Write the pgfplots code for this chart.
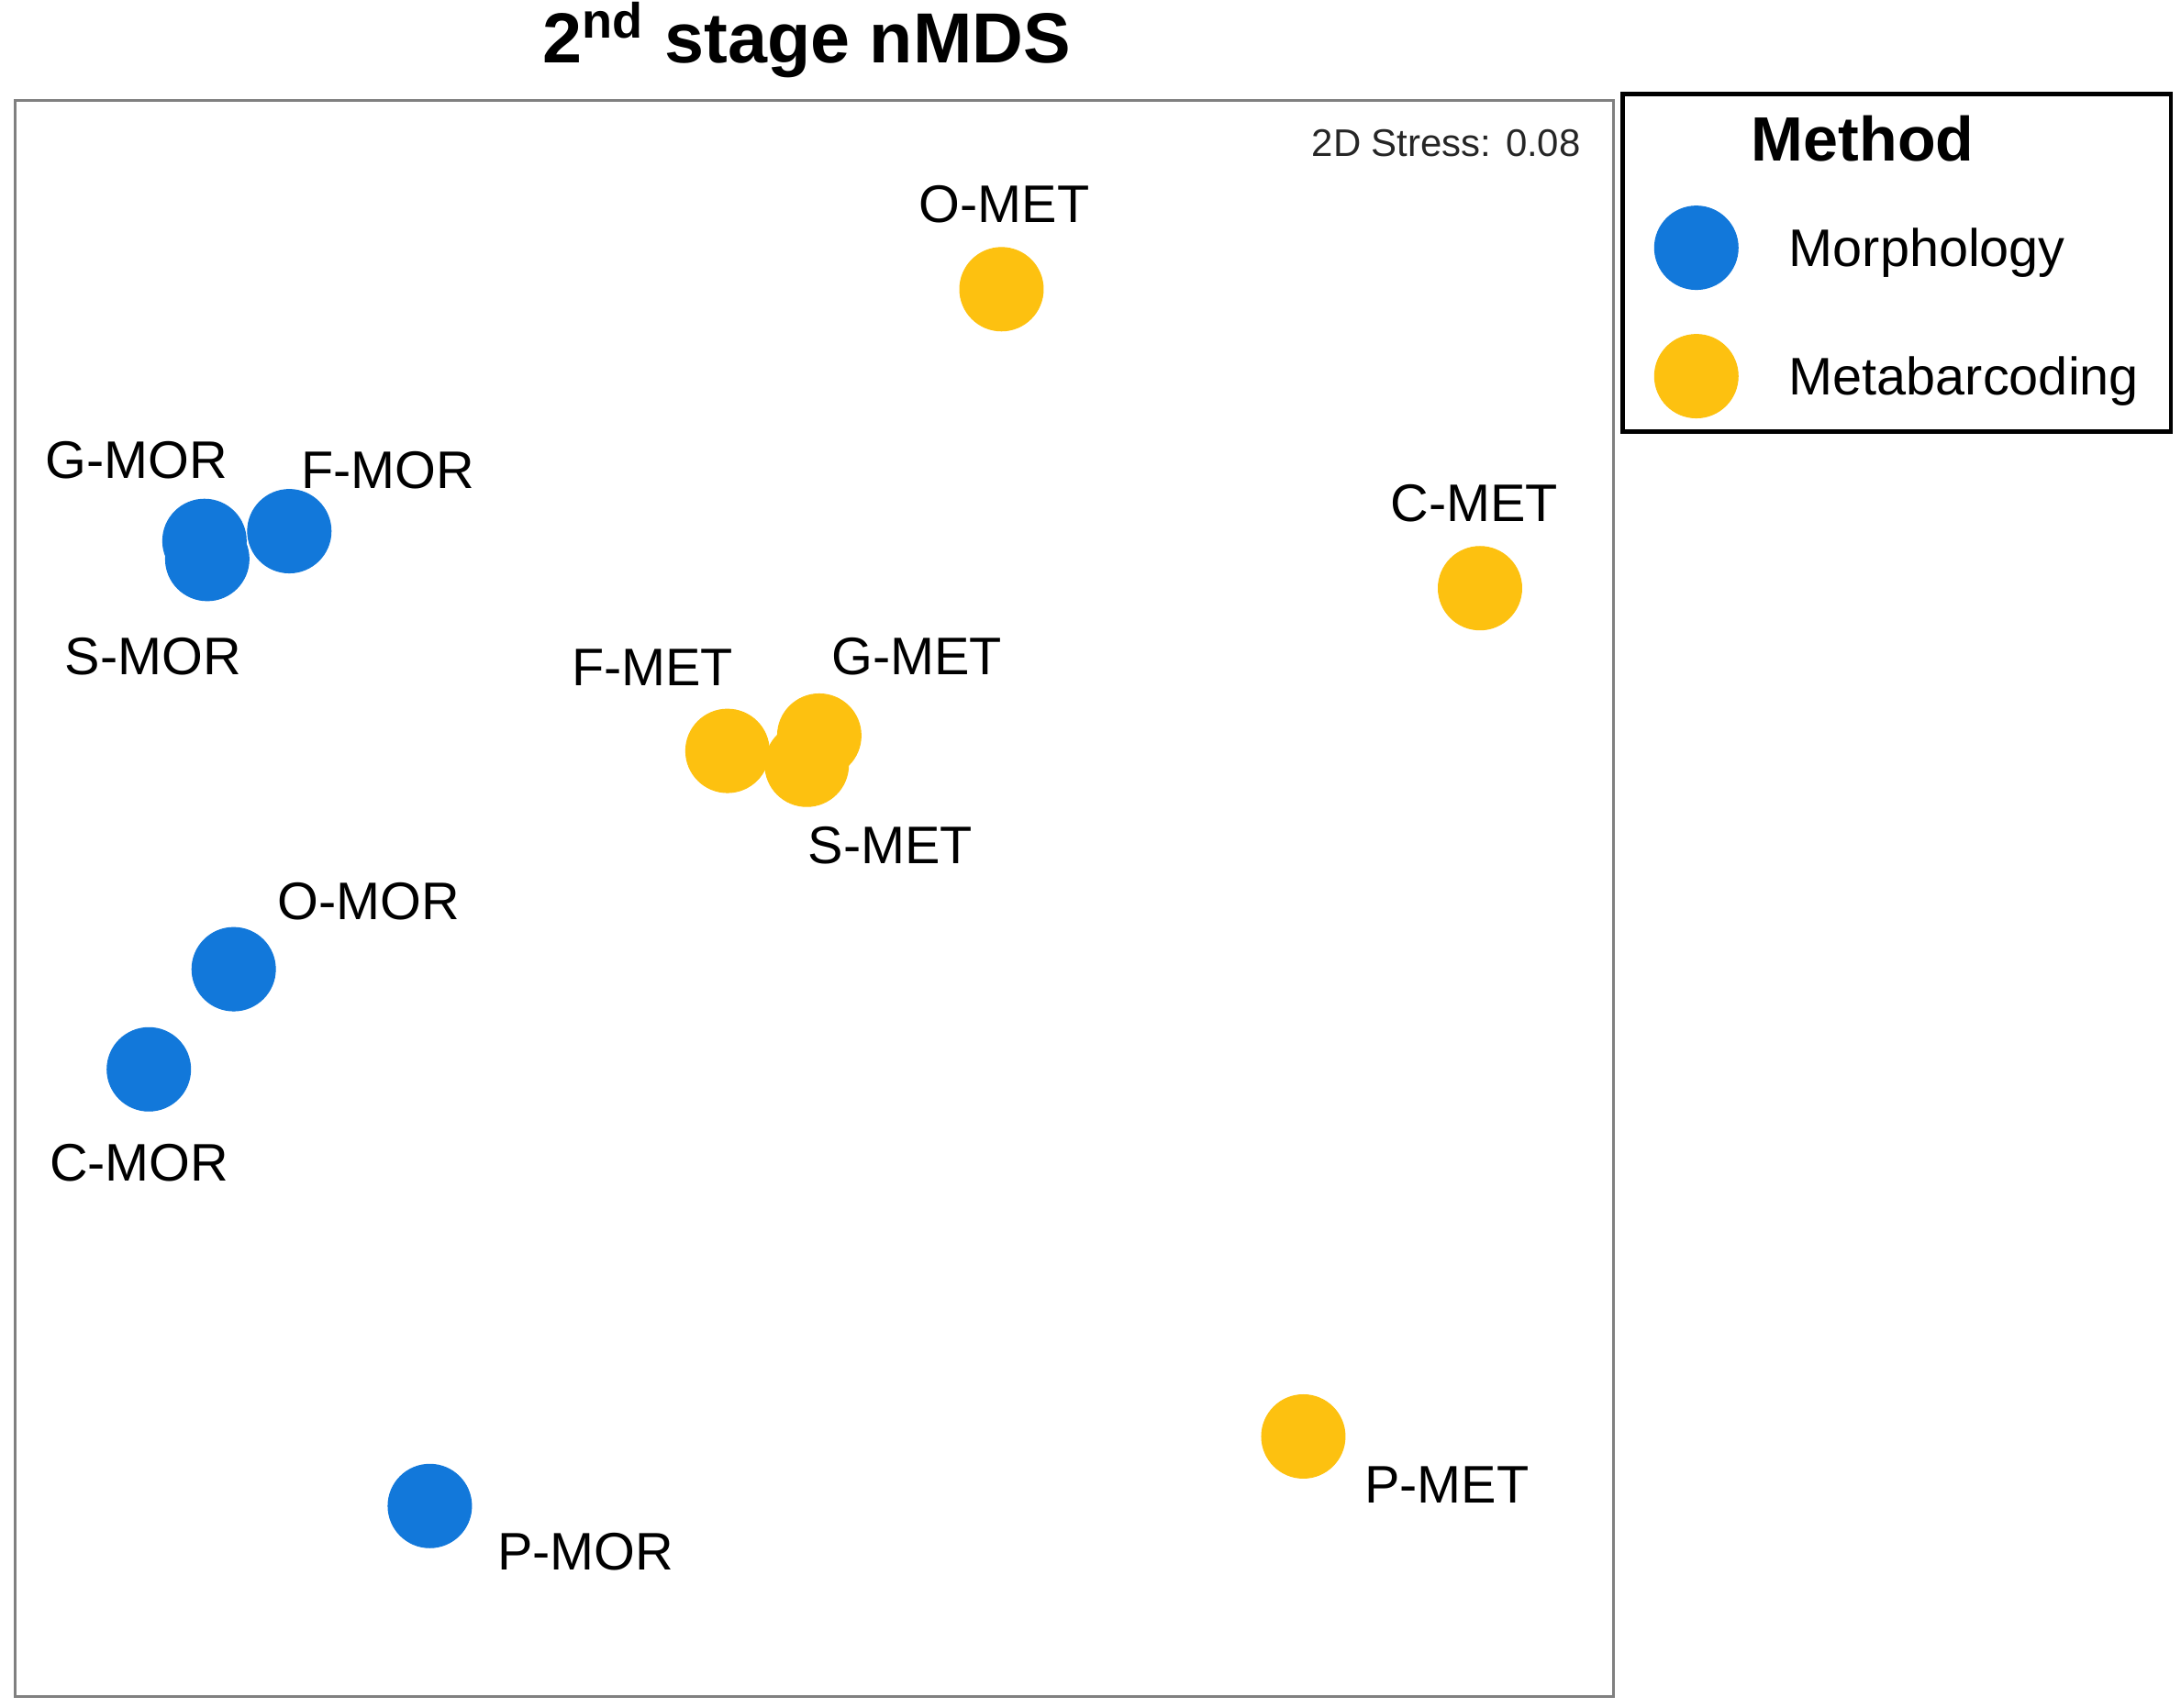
\documentclass[border=0pt]{standalone}
\usepackage{fontspec}
\setmainfont{Liberation Sans}
\usepackage{pgfplots}
\usepackage{pgfplotstable}
\pgfplotsset{compat=1.18}

\definecolor{morblue}{RGB}{18,120,218}
\definecolor{metyellow}{RGB}{253,193,16}

% point centres (y counted downwards)
\pgfplotstableread{
x y
147 389
149 402
208 382
168 697
107 769
309 1083
}\mor
\pgfplotstableread{
x y
720 208
1064 423
523 540
589 529
580 550
937 1033
}\met
\pgfplotstableread{
lx ly name
722 147 O-MET
98 331 G-MOR
279 338 F-MOR
110 472 S-MOR
1060 362 C-MET
469 480 F-MET
659 472 G-MET
640 608 S-MET
265 648 O-MOR
100 836 C-MOR
1040 1068 P-MET
421 1116 P-MOR
}\labels

\begin{document}
\begin{tikzpicture}
\begin{axis}[
  name=ax,
  scale only axis,
  width=344.7pt, height=344.4pt,
  xmin=11, xmax=1160, ymin=72, ymax=1220,
  y dir=reverse,
  xtick=\empty, ytick=\empty,
  axis line style={draw=gray, line width=0.6pt},
  every axis title shift=0pt,
  title={\textbf{2\textsuperscript{nd} stage nMDS}},
  title style={at={(0.4952,1)}, anchor=base, yshift=8.1pt, inner sep=0pt,
    font=\fontsize{15.3}{18}\selectfont},
  legend image code/.code={\draw[#1] plot[only marks] coordinates {(0pt,0pt)};},
  legend style={at={(1.0044,1.0052)}, anchor=north west,
    draw=black, line width=0.9pt, fill=white,
    inner xsep=6.9pt, inner ysep=3pt,
    row sep=9.7pt, column sep=11pt,
    font=\fontsize{11.4}{13}\selectfont,
    cells={anchor=west},
    nodes={inner sep=0pt, text depth=0pt}},
]
\addlegendimage{empty legend}
\addlegendentry{\hspace*{-8.1pt}\rule{0pt}{11.5pt}\fontsize{13.5}{15}\selectfont\textbf{Method}}

\addplot[only marks, mark=*, mark size=9pt,
  mark options={fill=morblue, draw=morblue, line width=0.2pt}] table[x=x, y=y] {\mor};
\addlegendentry{Morphology}

\addplot[only marks, mark=*, mark size=9pt,
  mark options={fill=metyellow, draw=metyellow, line width=0.2pt}] table[x=x, y=y] {\met};
\addlegendentry{Metabarcoding}

\addplot[only marks, mark=none, forget plot,
  nodes near coords, point meta=explicit symbolic,
  nodes near coords style={anchor=center, inner sep=0pt,
    font=\fontsize{11.4}{13}\selectfont}] table[x=lx, y=ly, meta=name] {\labels};

\node[anchor=east, inner sep=0pt, text=black!85,
  font=\fontsize{8.3}{10}\selectfont] at (axis cs:1137,103) {2D Stress: 0.08};
\end{axis}
\pgfresetboundingbox
\path[use as bounding box] ([xshift=-3.3pt,yshift=-2.4pt]ax.south west)
  rectangle ([xshift=122.4pt,yshift=21.6pt]ax.north east);
\end{tikzpicture}
\end{document}
